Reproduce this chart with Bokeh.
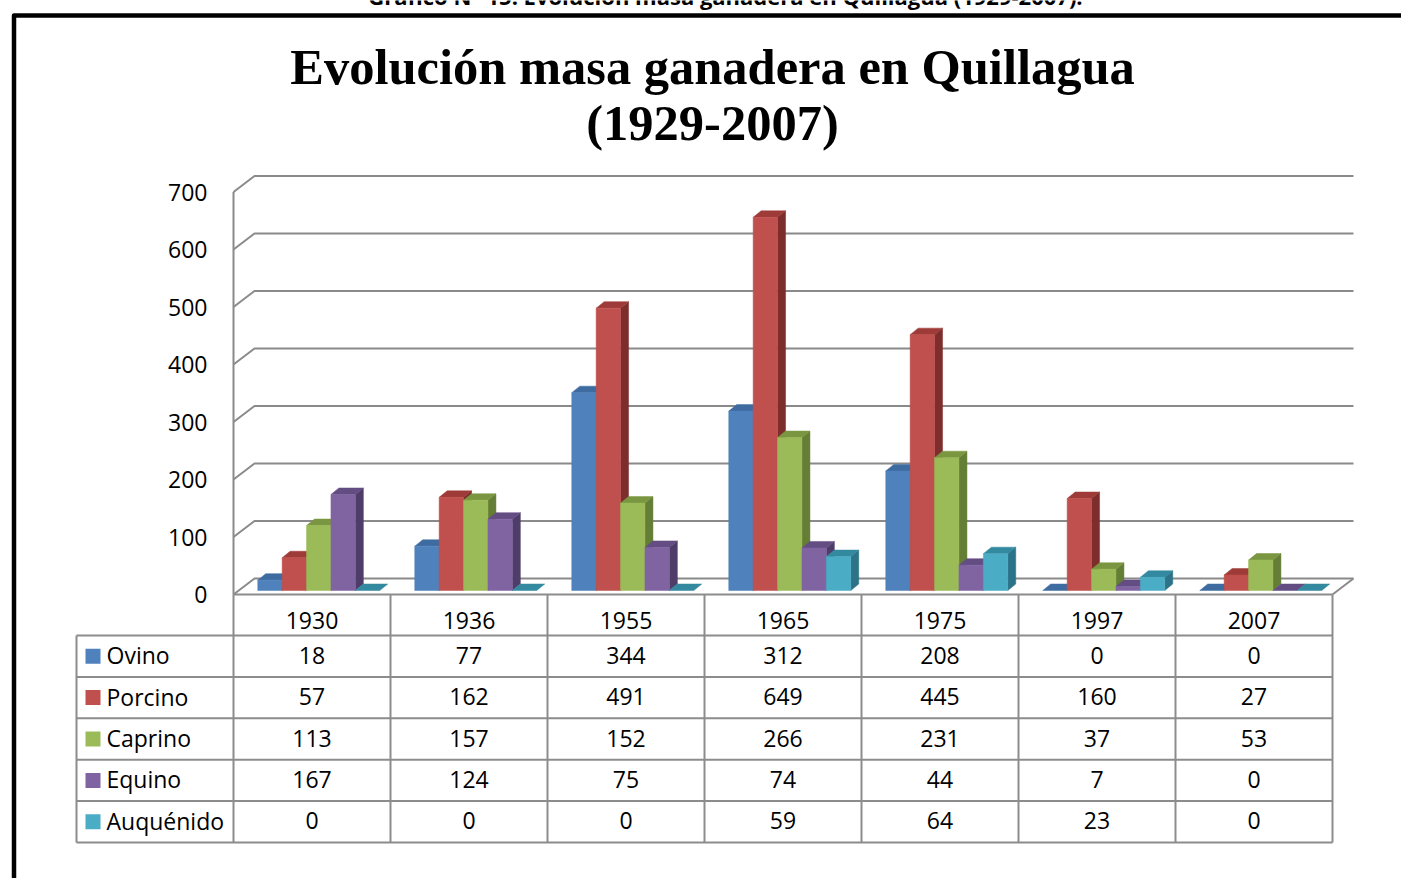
from bokeh.plotting import figure
from bokeh.models import Range1d
from bokeh.embed import file_html
from bokeh.resources import INLINE
from bokeh.core.properties import value

# ---------------- data ----------------
years = ["1930", "1936", "1955", "1965", "1975", "1997", "2007"]
series_names = ["Ovino", "Porcino", "Caprino", "Equino", "Auquénido"]
ovino = [18, 77, 344, 312, 208, 0, 0]
porcino = [57, 162, 491, 649, 445, 160, 27]
caprino = [113, 157, 152, 266, 231, 37, 53]
equino = [167, 124, 75, 74, 44, 7, 0]
auquenido = [0, 0, 0, 59, 64, 23, 0]
y_ticks = [0, 100, 200, 300, 400, 500, 600, 700]
title_lines = ["Evolución masa ganadera en Quillagua", "(1929-2007)"]
caption = "Gráfico N° 15: Evolución masa ganadera en Quillagua (1929-2007)."

series_values = [ovino, porcino, caprino, equino, auquenido]
front_colors = ["#4F81BD", "#C0504D", "#9BBB59", "#8064A2", "#4BACC6"]
top_colors = ["#3F6CA0", "#9E3B38", "#7A9640", "#634D82", "#33899F"]
side_colors = ["#365A87", "#7D2E2C", "#647E35", "#4F3D69", "#2C7387"]

# ---------------- geometry ----------------
W, H = 1401, 878
OFF = 0            # canvas origin on page
PX = 157.0         # pixels per category
PV = 0.575         # pixels per value unit
X0P, Y0P = 233.0, 594.0   # page position of category 0 / value 0 (front)


def X(px):
    return (px - X0P) / PX


def Y(py):
    return (Y0P - py) / PV


DX = 21 / PX       # full floor depth, x
DY = 16 / PV       # full floor depth, value units
BW = 24.4 / PX     # bar width
BOFF = 19 / PX     # offset of cluster inside category
BDX = 8 / PX       # bar depth x
BDY = 6.5 / PV     # bar depth y
D0 = 0.25          # bar front depth fraction
ncat = len(years)

p = figure(width=W, height=H, output_backend="svg", toolbar_location=None,
           x_range=Range1d(X(OFF), X(OFF + W)), y_range=Range1d(Y(OFF + H), Y(OFF)),
           min_border=0)
p.axis.visible = False
p.grid.visible = False
p.outline_line_color = None
p.background_fill_color = "white"
p.border_fill_color = "white"

grid_col = "#8A8A8A"
# back wall gridlines + left wall diagonals
for v in y_ticks:
    p.line([0, DX, ncat + DX], [v, v + DY, v + DY], line_color=grid_col, line_width=2)
# left wall vertical
p.line([0, 0], [0, y_ticks[-1]], line_color=grid_col, line_width=2)
# floor right edge
p.line([ncat, ncat + DX], [0, DY], line_color=grid_col, line_width=2)

# ---------------- bars ----------------
xs, ys, cols = [], [], []
for i in range(ncat):
    for j, vals in enumerate(series_values):
        val = vals[i]
        x0 = i + D0 * DX + BOFF + j * BW
        x1 = x0 + BW
        b = D0 * DY
        t = b + val
        if val > 0:
            # side
            xs.append([x1, x1 + BDX, x1 + BDX, x1])
            ys.append([b, b + BDY, t + BDY, t])
            cols.append(side_colors[j])
        # top
        xs.append([x0, x1, x1 + BDX, x0 + BDX])
        ys.append([t, t, t + BDY, t + BDY])
        cols.append(top_colors[j])
        if val > 0:
            xs.append([x0, x1, x1, x0])
            ys.append([b, b, t, t])
            cols.append(front_colors[j])
p.patches(xs, ys, fill_color=cols, line_color=cols, line_width=0.5)

# ---------------- y tick labels ----------------
FONT = value("Open Sans")
FS = "23px"
p.text(x=[X(207)] * len(y_ticks), y=y_ticks, text=[str(v) for v in y_ticks],
       text_font=FONT, text_font_size=FS, text_align="right",
       text_baseline="middle", text_color="black")

# ---------------- data table ----------------
tab_col = "#8C8C8C"
header_top, header_bot = 594.0, 635.0
row_h = (842.0 - 635.0) / 5
legend_left = 76.0
right_px = X0P + ncat * PX
# horizontal lines
p.line([X(X0P), X(right_px)], [Y(header_top)] * 2, line_color=tab_col, line_width=2)
for r in range(6):
    yy = Y(header_bot + r * row_h)
    p.line([X(legend_left), X(right_px)], [yy, yy], line_color=tab_col, line_width=2)
# vertical lines
for c in range(ncat + 1):
    p.line([c, c], [Y(header_top), Y(842)], line_color=tab_col, line_width=2)
p.line([X(legend_left)] * 2, [Y(header_bot), Y(842)], line_color=tab_col, line_width=2)

# header years
p.text(x=[i + 0.5 for i in range(ncat)], y=[Y(620)] * ncat,
       text=years, text_font=FONT, text_font_size=FS, text_align="center",
       text_baseline="middle", text_color="black")
# values
for j, vals in enumerate(series_values):
    pyc = header_bot + (j + 0.5) * row_h
    yc = Y(pyc - 1)
    p.text(x=[i + 0.5 for i in range(ncat)], y=[yc] * ncat, text=[str(v) for v in vals],
           text_font=FONT, text_font_size=FS, text_align="center",
           text_baseline="middle", text_color="black")
    # legend key
    p.quad(left=X(85), right=X(100), bottom=Y(pyc + 7.5), top=Y(pyc - 7.5),
           fill_color=front_colors[j], line_color=None)
    p.text(x=[X(106)], y=[yc], text=[series_names[j]], text_font=FONT,
           text_font_size=FS, text_align="left", text_baseline="middle",
           text_color="black")

# ---------------- title ----------------
p.text(x=[X(712), X(712)], y=[Y(66), Y(122)], text=title_lines,
       text_font=value("Liberation Serif"), text_font_style="bold",
       text_font_size="50.5px", text_align="center", text_baseline="middle",
       text_color="black")

# ---------------- caption (cut off at top of page, as in the source) ----------------
p.text(x=[X(725)], y=[Y(-4.5)], text=[caption], text_font=FONT,
       text_font_style="bold", text_font_size="22px", text_align="center",
       text_baseline="middle", text_color="black")

# ---------------- outer frame ----------------
p.line([X(13.5), X(13.5), X(1420)], [Y(900), Y(15), Y(15)], line_color="black",
       line_width=4.5, line_join="round")

open("out.html", "w").write(file_html(p, INLINE))
